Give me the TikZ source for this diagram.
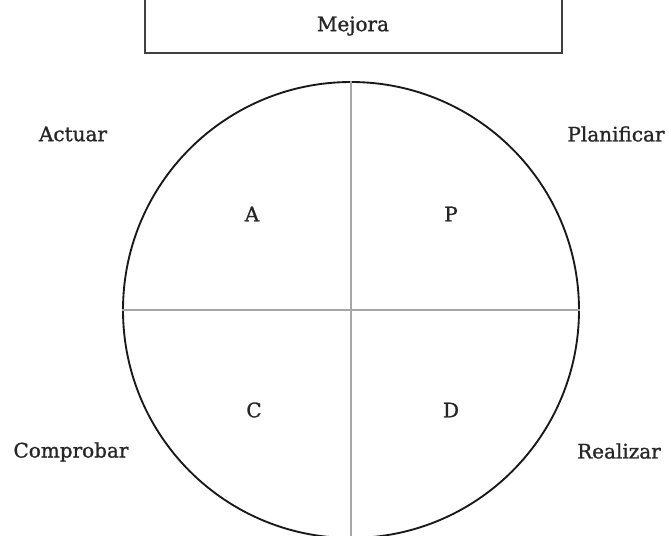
\documentclass[tikz,border=0pt]{standalone}
\usepackage{fontspec}
\setmainfont{DejaVu Serif}
\newfontfamily\labelfont{DejaVu Serif}[FakeBold=1.2]
\begin{document}
\begin{tikzpicture}[x=0.75pt, y=-0.75pt,
    label/.style={font=\labelfont\fontsize{15}{17}\selectfont, text=black!85},
    axis/.style={draw=black!35, line width=1.4pt}]
    \useasboundingbox (0,0) rectangle (669,536);

    % Top box
    \coordinate (boxtl) at (145,-10);
    \coordinate (boxtr) at (562,-10);
    \draw[black!75, line width=1.4pt] (boxtl) -- (145,53) -- (562,53) -- (boxtr);
    \node[label] (mejora) at (353,26) {Mejora};

    % Circle and quadrants
    \node[draw=black!90, line width=1.4pt, circle, inner sep=0pt, minimum size=342pt] (ciclo) at (351,310) {};
    \draw[axis] (ciclo.north) -- (ciclo.south);
    \draw[axis] (ciclo.west) -- (ciclo.east);

    % Letters
    \node[label] (qa) at (252,214) {A};
    \node[label] (qp) at (451,214) {P};
    \node[label] (qc) at (254,410) {C};
    \node[label] (qd) at (451,410) {D};

    % Outer labels
    \node[label] (actuar) at (73,134) {Actuar};
    \node[label] (planificar) at (616,134) {Planificar};
    \node[label] (comprobar) at (71,452) {Comprobar};
    \node[label] (realizar) at (619,451) {Realizar};
\end{tikzpicture}
\end{document}
